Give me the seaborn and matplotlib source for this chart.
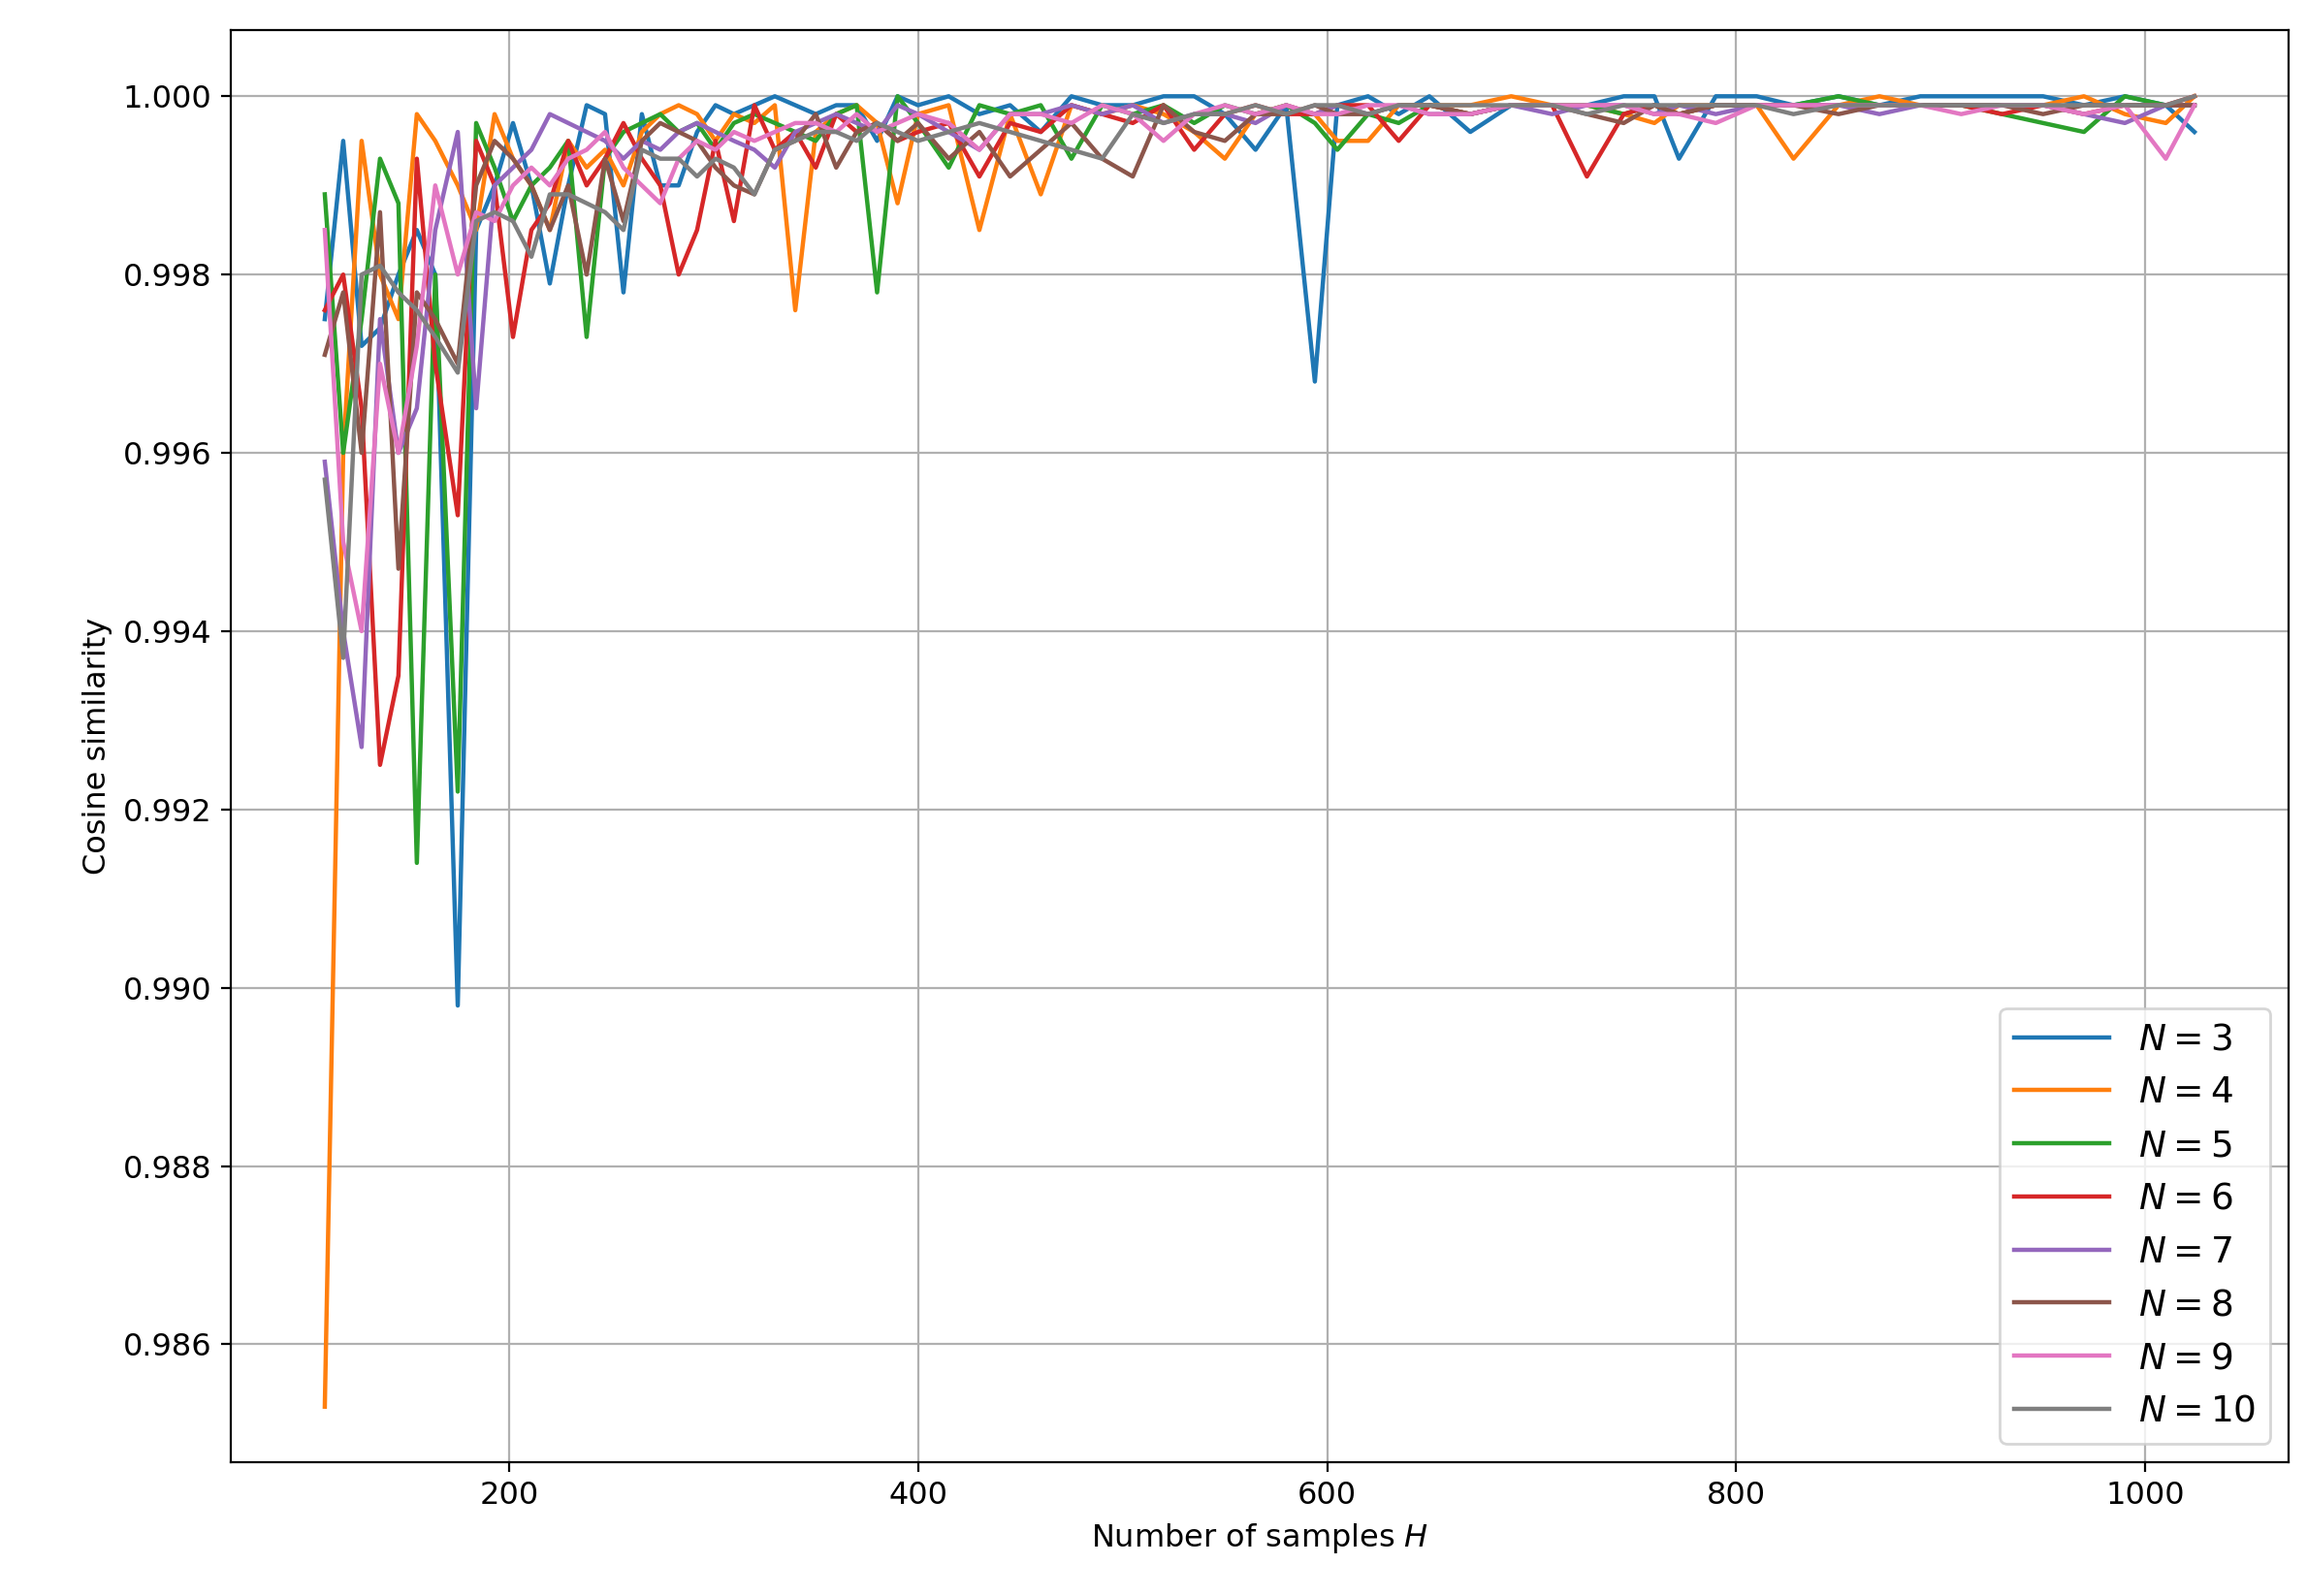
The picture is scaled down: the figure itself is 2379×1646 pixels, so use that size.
import matplotlib
matplotlib.use("Agg")
import matplotlib.pyplot as plt
import seaborn as sns
import pandas as pd

H = [110,119,128,137,146,155,164,175,184,193,202,211,220,229,238,247,256,265,274,283,292,301,310,320,330,340,350,360,370,380,390,400,415,430,445,460,475,490,505,520,535,550,565,580,594,605,620,635,650,670,690,710,727,745,760,772,790,810,828,850,870,890,910,930,950,970,990,1010,1024]

n3 = [.9975,.9995,.9972,.9974,.9980,.9985,.9980,.9898,.9985,.9990,.9997,.9990,.9979,.9990,.9999,.9998,.9978,.9998,.9990,.9990,.9996,.9999,.9998,.9999,1.0,.9999,.9998,.9999,.9999,.9995,1.0,.9999,1.0,.9998,.9999,.9996,1.0,.9999,.9999,1.0,1.0,.9998,.9994,.9999,.9968,.9999,1.0,.9998,1.0,.9996,.9999,.9999,.9999,1.0,1.0,.9993,1.0,1.0,.9999,1.0,.9999,1.0,1.0,1.0,1.0,.9999,1.0,.9999,.9996]
n4 = [.9853,.9960,.9995,.9980,.9975,.9998,.9995,.9990,.9985,.9998,.9993,.9990,.9985,.9995,.9992,.9994,.9990,.9996,.9998,.9999,.9998,.9995,.9998,.9997,.9999,.9976,.9996,.9998,.9999,.9997,.9988,.9998,.9999,.9985,.9998,.9989,.9999,.9998,.9999,.9998,.9996,.9993,.9998,.9999,.9998,.9995,.9995,.9999,.9999,.9999,1.0,.9999,.9999,.9998,.9997,.9999,.9999,.9999,.9993,.9999,1.0,.9999,.9999,.9999,.9999,1.0,.9998,.9997,1.0]
n5 = [.9989,.9960,.9975,.9993,.9988,.9914,.9980,.9922,.9997,.9992,.9986,.9990,.9992,.9995,.9973,.9993,.9996,.9997,.9998,.9996,.9997,.9994,.9997,.9998,.9997,.9996,.9995,.9998,.9999,.9978,1.0,.9997,.9992,.9999,.9998,.9999,.9993,.9999,.9998,.9999,.9997,.9999,.9998,.9999,.9997,.9994,.9998,.9997,.9999,.9998,.9999,.9999,.9999,.9998,.9999,.9998,.9999,.9999,.9999,1.0,.9999,.9999,.9999,.9998,.9997,.9996,1.0,.9999,.9999]
n6 = [.9976,.9980,.9965,.9925,.9935,.9993,.9970,.9953,.9995,.9990,.9973,.9985,.9988,.9995,.9990,.9993,.9997,.9993,.9990,.9980,.9985,.9995,.9986,.9999,.9994,.9996,.9992,.9998,.9996,.9997,.9995,.9996,.9997,.9991,.9997,.9996,.9999,.9998,.9997,.9999,.9994,.9998,.9999,.9998,.9998,.9999,.9999,.9995,.9999,.9998,.9999,.9999,.9991,.9998,.9999,.9998,.9999,.9999,.9999,.9999,.9999,.9999,.9999,.9998,.9999,.9998,.9999,.9999,1.0]
n7 = [.9959,.9940,.9927,.9975,.9960,.9965,.9985,.9996,.9965,.9990,.9992,.9994,.9998,.9997,.9996,.9995,.9993,.9995,.9994,.9996,.9997,.9996,.9995,.9994,.9992,.9996,.9997,.9998,.9997,.9996,.9999,.9998,.9996,.9994,.9998,.9998,.9999,.9998,.9999,.9997,.9998,.9998,.9997,.9999,.9998,.9999,.9998,.9999,.9998,.9998,.9999,.9998,.9999,.9999,.9998,.9999,.9998,.9999,.9999,.9999,.9998,.9999,.9999,.9999,.9999,.9998,.9997,.9999,.9999]
n8 = [.9971,.9978,.9960,.9987,.9947,.9978,.9975,.9970,.9990,.9995,.9993,.9990,.9985,.9990,.9980,.9993,.9986,.9995,.9997,.9996,.9995,.9992,.9990,.9989,.9994,.9995,.9998,.9992,.9996,.9997,.9995,.9997,.9993,.9996,.9991,.9994,.9997,.9993,.9991,.9999,.9996,.9995,.9998,.9998,.9999,.9998,.9998,.9999,.9999,.9998,.9999,.9999,.9998,.9997,.9999,.9998,.9999,.9999,.9999,.9998,.9999,.9999,.9999,.9999,.9998,.9999,.9999,.9999,.9999]
n9 = [.9985,.9950,.9940,.9970,.9960,.9972,.9990,.9980,.9987,.9986,.9990,.9992,.9990,.9993,.9994,.9996,.9992,.9990,.9988,.9993,.9995,.9994,.9996,.9995,.9996,.9997,.9997,.9996,.9998,.9996,.9997,.9998,.9997,.9994,.9998,.9998,.9997,.9999,.9998,.9995,.9998,.9999,.9998,.9999,.9998,.9998,.9999,.9999,.9998,.9998,.9999,.9999,.9999,.9999,.9998,.9998,.9997,.9999,.9999,.9999,.9999,.9999,.9998,.9999,.9999,.9998,.9999,.9993,.9999]
n10 = [.9957,.9937,.9980,.9981,.9978,.9976,.9973,.9969,.9986,.9987,.9986,.9982,.9989,.9989,.9988,.9987,.9985,.9994,.9993,.9993,.9991,.9993,.9992,.9989,.9994,.9995,.9996,.9996,.9995,.9997,.9996,.9995,.9996,.9997,.9996,.9995,.9994,.9993,.9998,.9997,.9998,.9998,.9999,.9998,.9999,.9999,.9998,.9999,.9999,.9999,.9999,.9999,.9998,.9999,.9999,.9999,.9999,.9999,.9998,.9999,.9999,.9999,.9999,.9999,.9999,.9999,.9999,.9999,1.0]

series = {"$N=3$": n3, "$N=4$": n4, "$N=5$": n5, "$N=6$": n6,
          "$N=7$": n7, "$N=8$": n8, "$N=9$": n9, "$N=10$": n10}

rows = []
for name, vals in series.items():
    for h, v in zip(H, vals):
        rows.append({"H": h, "cos": v, "N": name})
df = pd.DataFrame(rows)

plt.rcParams["font.size"] = 11.5
fig = plt.figure(figsize=(11.895, 8.23), dpi=200)
ax = fig.add_axes([0.1, 0.084, 0.892, 0.897])
sns.lineplot(data=df, x="H", y="cos", hue="N", palette=sns.color_palette("tab10", 8),
             estimator=None, ax=ax, linewidth=1.6)
ax.grid(True, color="#b0b0b0", linewidth=0.8)
ax.set_xlabel("Number of samples $H$", fontsize=11.5)
ax.set_ylabel("Cosine similarity", fontsize=11.5)
ax.tick_params(labelsize=11.5)
ax.set_xlim(64, 1070)
ax.set_ylim(0.98468, 1.00074)
ax.set_yticks([0.986,0.988,0.990,0.992,0.994,0.996,0.998,1.000])
ax.set_yticklabels([f"{t:.3f}" for t in ax.get_yticks()])
ax.set_xticks([200,400,600,800,1000])
leg = ax.legend(loc="lower right", fontsize=13.5, handlelength=2.6)
leg.set_title(None)
fig.savefig("out.png", dpi=200)
